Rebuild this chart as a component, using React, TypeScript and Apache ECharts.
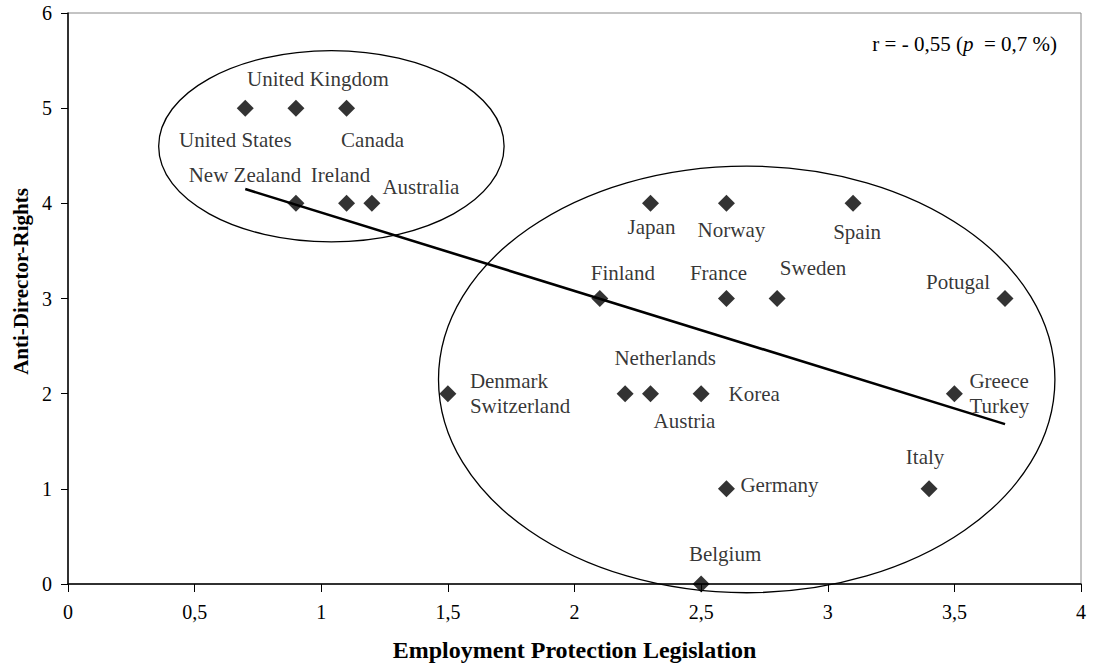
import React, { useEffect, useRef } from "react";
import * as echarts from "echarts";

const countries = [
  "United States", "United Kingdom", "Canada", "New Zealand", "Ireland", "Australia",
  "Japan", "Norway", "Spain", "Finland", "France", "Sweden", "Potugal",
  "Denmark\nSwitzerland", "Netherlands", "Austria", "Korea", "Greece\nTurkey",
  "Germany", "Italy", "Belgium",
];
const eplValues = [0.7, 0.9, 1.1, 0.9, 1.1, 1.2, 2.3, 2.6, 3.1, 2.1, 2.6, 2.8, 3.7, 1.5, 2.2, 2.3, 2.5, 3.5, 2.6, 3.4, 2.5];
const adrValues = [5, 5, 5, 4, 4, 4, 4, 4, 4, 3, 3, 3, 3, 2, 2, 2, 2, 2, 1, 1, 0];

const trendX = [0.7, 3.7];
const trendY = [4.15, 1.68];

const ellipseCx = [1.04, 2.68];
const ellipseCy = [4.6, 2.15];
const ellipseRx = [0.682, 1.217];
const ellipseRy = [1.005, 2.242];

const xTicks = ["0", "0,5", "1", "1,5", "2", "2,5", "3", "3,5", "4"];

// label placement (pixels relative to the marker)
const labelOffsets: [number, number][] = [
  [-10, 32], [22, -29], [26, 32], [-51, -28], [-6, -28], [49, -16],
  [1, 24], [5, 27], [4, 29], [23, -26], [-8, -26], [36, -31], [-47, -17],
  [22, 0], [40, -36], [34, 27], [53, 0], [15, 0],
  [53, -4], [-4, -32], [24, -30],
];
const labelAligns = [
  "center", "center", "center", "center", "center", "center",
  "center", "center", "center", "center", "center", "center", "center",
  "left", "center", "center", "center", "left",
  "center", "center", "center",
];

const FONT = "'Liberation Serif', 'Times New Roman', serif";

export default function App() {
  const ref = useRef<HTMLDivElement>(null);
  useEffect(() => {
    if (!ref.current) return;
    const chart = echarts.init(ref.current, undefined, { renderer: "svg" });
    const option: any = {
      animation: false,
      backgroundColor: "#fff",
      grid: {
        left: 68, right: 12, top: 13, bottom: 88,
        show: true, borderColor: "#888", borderWidth: 1,
      },
      xAxis: {
        type: "value", min: 0, max: 4, interval: 0.5,
        name: "Employment Protection Legislation",
        nameLocation: "middle", nameGap: 54,
        nameTextStyle: { fontFamily: FONT, fontSize: 24, fontWeight: "bold", color: "#000" },
        axisLine: { show: true, onZero: false, lineStyle: { color: "#000", width: 1.5 } },
        axisTick: { show: true, inside: false, length: 8, lineStyle: { color: "#000" } },
        axisLabel: {
          margin: 18, fontFamily: FONT, fontSize: 20, color: "#000",
          formatter: (v: number) => xTicks[Math.round(v * 2)] ?? String(v),
        },
        splitLine: { show: false },
      },
      yAxis: {
        type: "value", min: 0, max: 6, interval: 1,
        name: "Anti-Director-Rights",
        nameLocation: "middle", nameGap: 37,
        nameTextStyle: {
          fontFamily: FONT, fontSize: 21, fontWeight: "bold", color: "#000",
          padding: [0, 0, 0, 34],
        },
        axisLine: { show: true, onZero: false, lineStyle: { color: "#000", width: 1.5 } },
        axisTick: { show: true, inside: false, length: 7, lineStyle: { color: "#000" } },
        axisLabel: { margin: 16, fontFamily: FONT, fontSize: 20, color: "#000" },
        splitLine: { show: false },
      },
      series: [
        {
          type: "custom",
          clip: false,
          z: 1,
          silent: true,
          data: ellipseCx.map((cx, i) => [cx, ellipseCy[i], ellipseRx[i], ellipseRy[i]]),
          encode: { x: 0, y: 1 },
          renderItem: (_params: any, api: any) => {
            const c = api.coord([api.value(0), api.value(1)]);
            const s = api.size([api.value(2), api.value(3)]);
            return {
              type: "ellipse",
              shape: { cx: c[0], cy: c[1], rx: s[0], ry: s[1] },
              style: { fill: "none", stroke: "#000", lineWidth: 1.3 },
            };
          },
        },
        {
          type: "line",
          z: 2,
          showSymbol: false,
          symbol: "none",
          data: trendX.map((x, i) => [x, trendY[i]]),
          lineStyle: { color: "#000", width: 2.6 },
        },
        {
          type: "scatter",
          z: 3,
          symbol: "diamond",
          symbolSize: [17, 17],
          itemStyle: { color: "#000" },
          label: {
            show: true,
            position: "inside",
            formatter: "{b}",
            color: "#000",
            fontFamily: FONT,
            fontSize: 21,
            lineHeight: 25,
            verticalAlign: "middle",
          },
          data: countries.map((name, i) => ({
            name,
            value: [eplValues[i], adrValues[i]],
            label: { offset: labelOffsets[i], align: labelAligns[i] },
          })),
        },
      ],
      graphic: [
        {
          type: "text",
          right: 36,
          top: 33,
          style: {
            text: "r = - 0,55 ({i|p}  = 0,7 %)",
            fontFamily: FONT,
            fontSize: 21,
            fill: "#000",
            rich: { i: { fontStyle: "italic", fontFamily: FONT, fontSize: 21 } },
          },
        },
      ],
    };
    chart.setOption(option);
    return () => chart.dispose();
  }, []);
  return (
    <div
      ref={ref}
      style={{ position: "fixed", left: 0, top: 0, width: 1093, height: 672, background: "#fff" }}
    />
  );
}
